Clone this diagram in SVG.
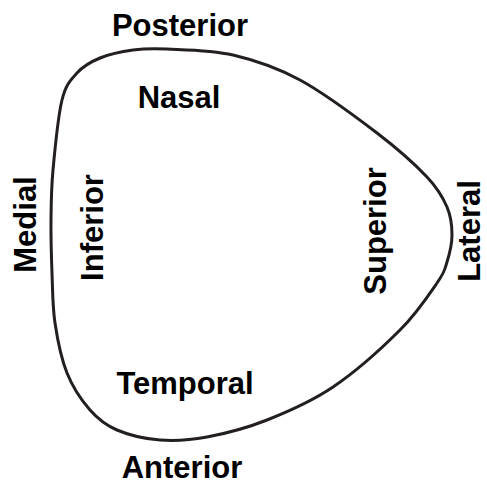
<svg xmlns="http://www.w3.org/2000/svg" width="487" height="485" viewBox="0 0 487 485">
<style>
.lbl{font-family:"Liberation Sans",Arial,sans-serif;font-weight:bold;font-size:31px;fill:#000;text-anchor:middle}
.outline{fill:none;stroke:#231f20;stroke-width:3;stroke-linejoin:round}
</style>
<rect width="487" height="485" fill="#fff"/>
<g id="outline">
<path class="outline" d="M 167 49 C 183.67 49.83, 210.83 49.83, 233 55 C 255.17 60.17, 276 67, 300 80 C 324 93, 355.83 116.83, 377 133 C 398.17 149.17, 415.33 164.67, 427 177 C 438.67 189.33, 442.83 197.33, 447 207 C 451.17 216.67, 452 225.830, 452 235 C 452 244.17, 449.5 254, 447 262 C 444.5 270, 444.83 271.67, 437 283 C 429.17 294.33, 417.33 312.67, 400 330 C 382.67 347.33, 355.17 372, 333 387 C 310.83 402, 288 411.67, 267 420 C 246 428.33, 224.83 433.67, 207 437 C 189.17 440.33, 175 441.17, 160 440 C 145 438.83, 128.67 435, 117 430 C 105.33 425, 98.33 419.5, 90 410 C 81.67 400.5, 72.83 387.5, 67 373 C 61.17 358.5, 57.5 339.67, 55 323 C 52.5 306.33, 52.67 290.17, 52 273 C 51.33 255.83, 50.83 237.17, 51 220 C 51.17 202.83, 51.17 190, 53 170 C 54.83 150, 58 116.17, 62 100 C 66 83.83, 70.67 80, 77 73 C 83.33 66, 90.67 61.83, 100 58 C 109.33 54.17, 121.83 51.5, 133 50 C 144.17 48.5, 150.33 48.17, 167 49 Z"/>
</g>
<g id="labels">
<text id="posterior" class="lbl" x="180" y="36">Posterior</text>
<text id="nasal" class="lbl" x="179" y="108">Nasal</text>
<text id="temporal" class="lbl" x="185" y="394">Temporal</text>
<text id="anterior" class="lbl" x="182" y="478">Anterior</text>
<text id="medial" class="lbl" transform="translate(36,224.5) rotate(-90)">Medial</text>
<text id="inferior" class="lbl" transform="translate(103,227.5) rotate(-90)">Inferior</text>
<text id="superior" class="lbl" transform="translate(386,231) rotate(-90)">Superior</text>
<text id="lateral" class="lbl" transform="translate(480,231) rotate(-90)">Lateral</text>
</g>
</svg>
